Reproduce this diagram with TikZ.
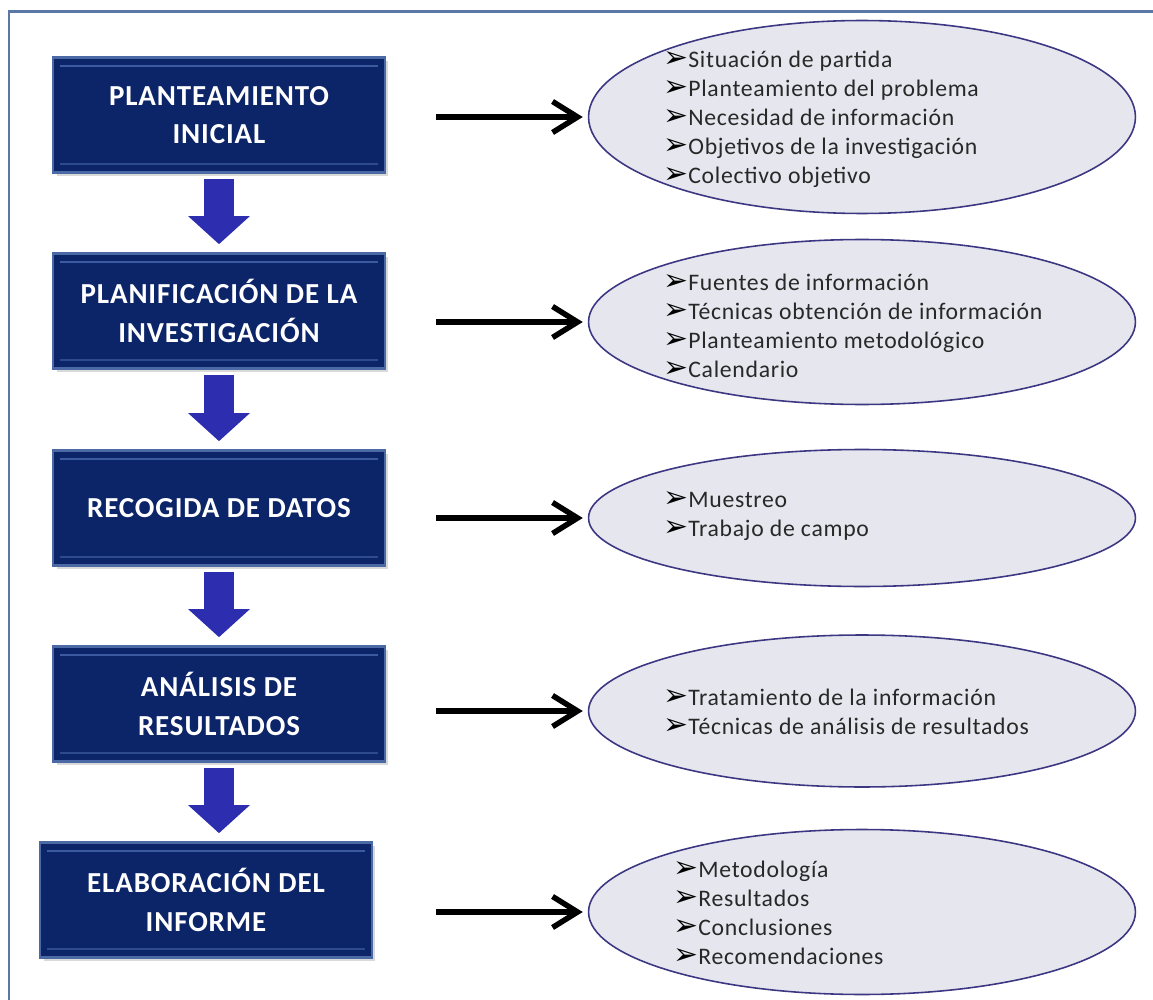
\documentclass[tikz,border=0pt]{standalone}
\usepackage{fontspec}
\setmainfont{Carlito}
\newfontfamily\symbolfont{DejaVu Sans}
\usetikzlibrary{arrows.meta,positioning,shapes.geometric,shadows}
\definecolor{navyfill}{RGB}{12,36,104}
\definecolor{navyedge}{RGB}{75,105,165}
\definecolor{navybrillo}{RGB}{60,90,160}
\definecolor{flechaazul}{RGB}{45,45,175}
\definecolor{elipsefill}{RGB}{230,230,238}
\definecolor{elipseedge}{RGB}{60,55,130}
\definecolor{marcoazul}{RGB}{90,120,165}
\definecolor{textogris}{RGB}{40,40,40}
\newcommand{\vin}{{\symbolfont\fontsize{17}{13}\selectfont\color{black}➢}}

\begin{document}
\begin{tikzpicture}[
  x=0.02cm,y=-0.02cm,
  etapa/.style={rectangle,fill=navyfill,draw=navyedge,line width=1.5pt,minimum width=6.64cm,minimum height=2.3cm,align=center,text=white,
    font=\fontsize{16.5}{22}\selectfont\bfseries\addfontfeature{LetterSpace=3},
    drop shadow={shadow xshift=2pt,shadow yshift=-2pt,opacity=0.3},
    path picture={\draw[navybrillo,line width=1.2pt]
      ([shift={(4pt,-5pt)}]path picture bounding box.north west) -- ([shift={(-4pt,-5pt)}]path picture bounding box.north east);
      \draw[navybrillo!70!navyfill,line width=1pt]
      ([shift={(4pt,5pt)}]path picture bounding box.south west) -- ([shift={(-4pt,5pt)}]path picture bounding box.south east);}},
  elipse/.style={ellipse,fill=elipsefill,draw=elipseedge,line width=0.9pt,minimum width=10.94cm,inner sep=0pt},
  lista/.style={anchor=west,align=left,text=textogris,inner sep=0pt,
    font=\fontsize{13.5}{16.5}\selectfont\addfontfeature{LetterSpace=3}},
  bajar/.style={line width=0.6cm,color=flechaazul,-{Triangle[length=0.56cm,width=1.2cm]},shorten <=0.1cm,shorten >=0.16cm},
  hacia/.style={line width=0.11cm,-{Straight Barb[length=0.5cm,width=0.62cm]},shorten <=1cm,shorten >=0.1cm},
  marco/.style={draw=marcoazul,line width=0.06cm},
]
\useasboundingbox (0,0) rectangle (1153,1000);
\draw[marco] (9,1000) -- (9,12) -- (1153,12);

% etapas
\node[etapa] (b1) at (219,115) {PLANTEAMIENTO\\INICIAL};
\node[etapa] (b2) at (219,311) {PLANIFICACIÓN DE LA\\INVESTIGACIÓN};
\node[etapa] (b3) at (219,508) {RECOGIDA DE DATOS};
\node[etapa] (b4) at (219,704) {ANÁLISIS DE\\RESULTADOS};
\node[etapa] (b5) at (206,900) {ELABORACIÓN DEL\\INFORME};

% elipses
\node[elipse,minimum height=3.86cm] (e1) at (862,117) {};
\node[elipse,minimum height=3.3cm] (e2) at (862,322) {};
\node[elipse,minimum height=2.74cm] (e3) at (862,518) {};
\node[elipse,minimum height=3.04cm] (e4) at (862,711) {};
\node[elipse,minimum height=3.3cm] (e5) at (862,912) {};

\node[lista] (t1) at (663,119) {\vin Situación de partida\\\vin Planteamiento del problema\\\vin Necesidad de información\\\vin Objetivos de la investigación\\\vin Colectivo objetivo};
\node[lista] (t2) at (663,326) {\vin Fuentes de información\\\vin Técnicas obtención de información\\\vin Planteamiento metodológico\\\vin Calendario};
\node[lista] (t3) at (663,516) {\vin Muestreo\\\vin Trabajo de campo};
\node[lista] (t4) at (663,712) {\vin Tratamiento de la información\\\vin Técnicas de análisis de resultados};
\node[lista] (t5) at (673,913) {\vin Metodología\\\vin Resultados\\\vin Conclusiones\\\vin Recomendaciones};

% flechas
\draw[bajar] (b1.south) -- (b1.south |- b2.north);
\draw[bajar] (b2.south) -- (b2.south |- b3.north);
\draw[bajar] (b3.south) -- (b3.south |- b4.north);
\draw[bajar] (b4.south) -- (b4.south |- b5.north);

\draw[hacia] (e1.west -| b1.east) -- (e1.west);
\draw[hacia] (e2.west -| b2.east) -- (e2.west);
\draw[hacia] (e3.west -| b3.east) -- (e3.west);
\draw[hacia] (e4.west -| b4.east) -- (e4.west);
\draw[hacia] (e5.west -| b4.east) -- (e5.west);
\end{tikzpicture}
\end{document}
